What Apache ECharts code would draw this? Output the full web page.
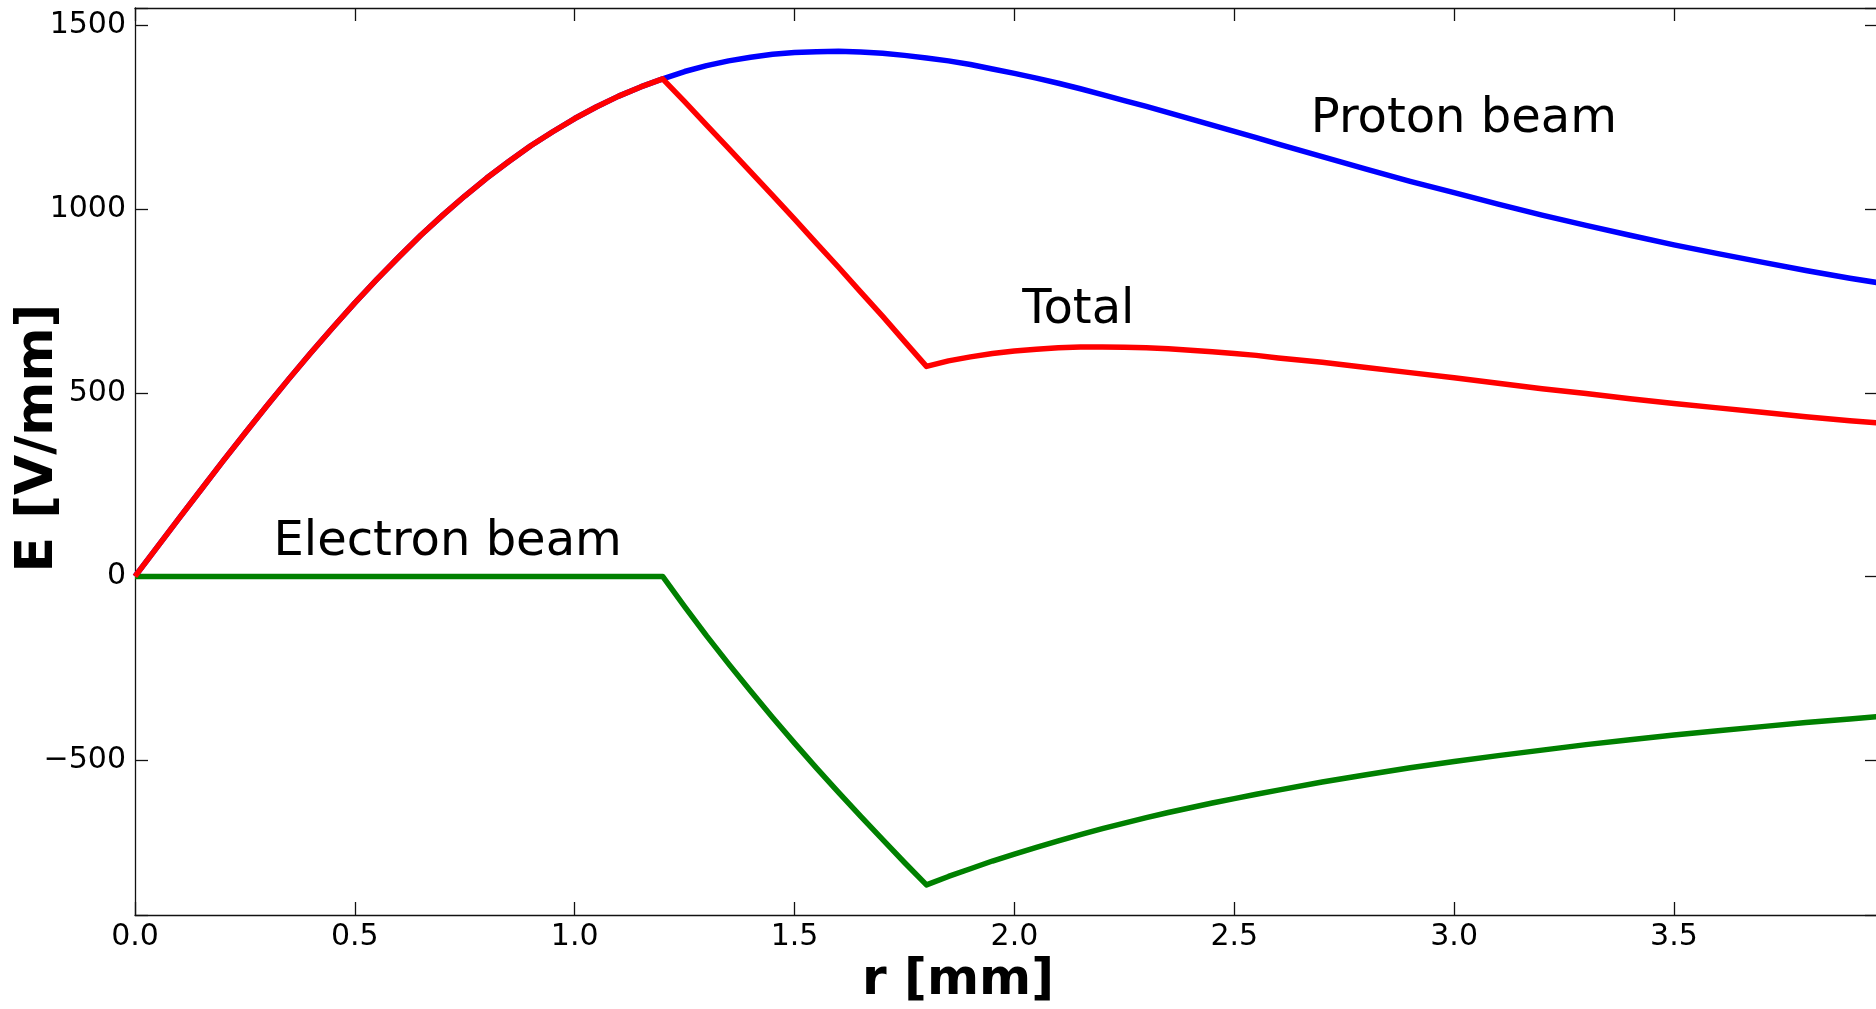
<!DOCTYPE html>
<html>
<head>
<meta charset="utf-8">
<script src="https://cdn.jsdelivr.net/npm/echarts@6/dist/echarts.min.js"></script>
<style>
  html, body { margin: 0; padding: 0; background: #fff; }
  #field-chart { width: 1876px; height: 1009px; }
</style>
</head>
<body>
<div id="field-chart"></div>
<script>
// r [mm] sample points (finer where the curves bend)
var rValues = [0.0, 0.05, 0.1, 0.15, 0.2, 0.25, 0.3, 0.35, 0.4, 0.45,
               0.5, 0.55, 0.6, 0.65, 0.7, 0.75, 0.8, 0.85, 0.9, 0.95,
               1.0, 1.05, 1.1, 1.15, 1.2, 1.25, 1.3, 1.35, 1.4, 1.45,
               1.5, 1.55, 1.6, 1.65, 1.7, 1.75, 1.8, 1.85, 1.9, 1.95,
               2.0, 2.05, 2.1, 2.15, 2.2, 2.25, 2.3, 2.35, 2.4, 2.45,
               2.5, 2.55, 2.6,
               2.7, 2.8, 2.9, 3.0, 3.1, 3.2, 3.3, 3.4, 3.5, 3.6, 3.7, 3.8, 3.9, 3.964];

// E [V/mm]
var protonBeam = [0, 79, 158, 236, 314, 390, 465, 538, 609, 678,
                  745, 809, 870, 929, 984, 1036, 1085, 1130, 1173, 1211,
                  1247, 1279, 1308, 1333, 1355, 1375, 1391, 1404, 1414, 1422,
                  1427, 1429, 1430, 1428, 1425, 1419, 1412, 1404, 1394, 1382,
                  1370, 1357, 1343, 1328, 1312, 1296, 1280, 1263, 1246, 1229,
                  1212, 1195, 1177,
                  1143, 1109, 1076, 1045, 1014, 984, 956, 929, 903, 879, 856, 833, 812, 800];
var electronBeam = [0, 0, 0, 0, 0, 0, 0, 0, 0, 0,
                    0, 0, 0, 0, 0, 0, 0, 0, 0, 0,
                    0, 0, 0, 0, 0, -82, -162, -238, -312, -384,
                    -454, -522, -588, -653, -716, -779, -840, -817, -796, -775,
                    -756, -738, -720, -703, -687, -672, -657, -643, -630, -617,
                    -605, -593, -582,
                    -560, -540, -521, -504, -488, -473, -458, -445, -432, -420, -409, -398, -388, -382];
var totalField = [0, 79, 158, 236, 314, 390, 465, 538, 609, 678,
                  745, 809, 870, 929, 984, 1036, 1085, 1130, 1173, 1211,
                  1247, 1279, 1308, 1333, 1355, 1293, 1229, 1166, 1102, 1038,
                  973, 907, 842, 775, 709, 640, 572, 587, 598, 607,
                  614, 619, 623, 625, 625, 624, 623, 620, 616, 612,
                  607, 602, 595,
                  583, 569, 555, 541, 526, 511, 498, 484, 471, 459, 447, 435, 424, 418];

// text labels inside the plot
var noteNames = ['Proton beam', 'Total', 'Electron beam'];
var notePos = [[2.674, 1243], [2.018, 723], [0.315, 91]];

var rMin = 0, rMax = 3.964, rStep = 0.5;
var eMin = -922, eMax = 1548, eStep = 500;

function pairs(ys) {
    return rValues.map(function (r, i) { return [r, ys[i]]; });
}

var font = 'DejaVu Sans';
var spine = { color: '#111', width: 1.3 };

function xLabel(v) {
    return Math.abs(v / rStep - Math.round(v / rStep)) < 1e-9 ? v.toFixed(1) : '';
}
function yLabel(v) {
    return v % eStep === 0 ? String(v).replace('-', '\u2212') : '';
}

var chart = echarts.init(document.getElementById('field-chart'));

var option = {
    animation: false,
    backgroundColor: '#fff',
    grid: {
        left: 135,
        top: 8,
        right: -2,
        bottom: 94,
        containLabel: false,
        outerBoundsMode: 'none'
    },
    xAxis: [
        {
            type: 'value',
            min: rMin,
            max: rMax,
            interval: rStep,
            position: 'bottom',
            axisLine: { show: true, onZero: false, lineStyle: spine },
            axisTick: { show: true, inside: true, length: 13, lineStyle: spine },
            axisLabel: {
                show: true, margin: 7, fontSize: 30, color: '#000', fontFamily: font,
                formatter: xLabel
            },
            splitLine: { show: false }
        },
        {
            type: 'value',
            min: rMin,
            max: rMax,
            interval: rStep,
            position: 'top',
            axisLine: { show: true, onZero: false, lineStyle: spine },
            axisTick: { show: true, inside: true, length: 13, lineStyle: spine },
            axisLabel: { show: false },
            splitLine: { show: false }
        }
    ],
    yAxis: [
        {
            type: 'value',
            min: eMin,
            max: eMax,
            minInterval: eStep,
            maxInterval: eStep,
            position: 'left',
            axisLine: { show: true, onZero: false, lineStyle: spine },
            axisTick: { show: true, inside: true, length: 13, lineStyle: spine },
            axisLabel: {
                show: true, margin: 9, fontSize: 30, color: '#000', fontFamily: font,
                formatter: yLabel
            },
            splitLine: { show: false }
        },
        {
            type: 'value',
            min: eMin,
            max: eMax,
            minInterval: eStep,
            maxInterval: eStep,
            position: 'right',
            axisLine: { show: true, onZero: false, lineStyle: spine },
            axisTick: { show: true, inside: true, length: 13, lineStyle: spine },
            axisLabel: { show: false },
            splitLine: { show: false }
        }
    ],
    graphic: [
        {
            type: 'text',
            x: 958,
            y: 981,
            style: {
                text: 'r [mm]',
                fontFamily: font,
                fontSize: 50,
                fontWeight: 'bold',
                fill: '#000',
                textAlign: 'center',
                textVerticalAlign: 'middle'
            }
        },
        {
            type: 'text',
            x: 38,
            y: 438,
            rotation: Math.PI / 2,
            style: {
                text: 'E [V/mm]',
                fontFamily: font,
                fontSize: 52,
                fontWeight: 'bold',
                fill: '#000',
                textAlign: 'center',
                textVerticalAlign: 'middle'
            }
        }
    ],
    series: [
        {
            name: 'Proton beam',
            type: 'line',
            data: pairs(protonBeam),
            showSymbol: false,
            lineStyle: { color: '#0000ff', width: 5.5, join: 'round' },
            z: 2
        },
        {
            name: 'Electron beam',
            type: 'line',
            data: pairs(electronBeam),
            showSymbol: false,
            lineStyle: { color: '#008000', width: 5.5, join: 'round' },
            z: 3
        },
        {
            name: 'Total',
            type: 'line',
            data: pairs(totalField),
            showSymbol: false,
            lineStyle: { color: '#ff0000', width: 5.5, join: 'round' },
            z: 4
        },
        {
            name: 'notes',
            type: 'scatter',
            symbolSize: 0,
            silent: true,
            itemStyle: { opacity: 1 },
            data: notePos.map(function (p, i) { return { name: noteNames[i], value: p }; }),
            label: {
                show: true,
                position: 'right',
                distance: 0,
                formatter: '{b}',
                fontFamily: font,
                fontSize: 48,
                color: '#000',
                opacity: 1
            },
            z: 5
        }
    ]
};

chart.setOption(option);

window.addEventListener('resize', function () {
    chart.resize();
});
</script>
</body>
</html>
